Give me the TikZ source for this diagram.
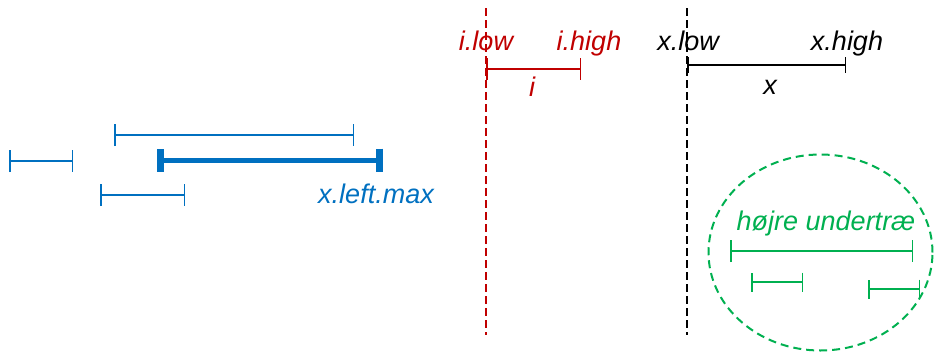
\documentclass[tikz,border=0pt]{standalone}
\usepackage{fontspec}
\setmainfont{Liberation Sans}
\usetikzlibrary{arrows.meta,shapes.geometric}
\definecolor{myblue}{HTML}{0070C0}
\definecolor{myred}{HTML}{C00000}
\definecolor{mygreen}{HTML}{00B050}
\begin{document}
\begin{tikzpicture}[x=1pt,y=-1pt,
  lbl/.style={inner sep=0pt,anchor=base,font=\fontsize{27}{32}\selectfont\itshape},
  ival/.style={line width=1.5pt,{Bar[width=22pt]}-{Bar[width=22pt]}},
  thickival/.style={line width=5pt,{Bar[width=23pt,line width=7pt]}-{Bar[width=23pt,line width=7pt]}},
  vline/.style={line width=1.5pt,dash pattern=on 8pt off 4pt}]
\useasboundingbox (0,0) rectangle (934,351);
% vertical dashed lines
\coordinate (rt) at (486,8); \coordinate (rb) at (486,335);
\coordinate (kt) at (687,8); \coordinate (kb) at (687,335);
\draw[vline,myred] (rt) -- (rb);
\draw[vline,black] (kt) -- (kb);
% i interval
\coordinate (ia) at (486,69); \coordinate (ib) at (581,69);
\draw[ival,myred] (ia) -- (ib);
\node[lbl,text=myred] (ilow) at (486,50) {i.low};
\node[lbl,text=myred] (ihigh) at (589,50) {i.high};
\node[lbl,text=myred] (ilab) at (532,96) {i};
% x interval
\coordinate (xa) at (687,65); \coordinate (xb) at (846,65);
\draw[line width=1.5pt,{Bar[width=16pt]}-{Bar[width=16pt]}] (xa) -- (xb);
\node[lbl] (xlow) at (688,50) {x.low};
\node[lbl] (xhigh) at (847,50) {x.high};
\node[lbl] (xlab) at (770,94) {x};
% blue intervals
\coordinate (b1a) at (114,135); \coordinate (b1b) at (354,135);
\draw[ival,myblue] (b1a) -- (b1b);
\coordinate (b2a) at (9,161); \coordinate (b2b) at (73,161);
\draw[ival,myblue] (b2a) -- (b2b);
\coordinate (b3a) at (157,160); \coordinate (b3b) at (383,160);
\draw[thickival,myblue] (b3a) -- (b3b);
\coordinate (b4a) at (100,195); \coordinate (b4b) at (185,195);
\draw[ival,myblue] (b4a) -- (b4b);
\node[lbl,text=myblue] (xlm) at (376,203) {x.left.max};
% green subtree
\node[draw=mygreen,line width=2pt,dash pattern=on 8pt off 5pt,ellipse,minimum width=224pt,minimum height=196pt,inner sep=0pt] (ell) at (820.5,252.5) {};
\node[lbl,text=mygreen] (hu) at (826,230) {højre undertræ};
\coordinate (g1a) at (730,251); \coordinate (g1b) at (913,251);
\draw[ival,mygreen] (g1a) -- (g1b);
\coordinate (g2a) at (751,282); \coordinate (g2b) at (803,282);
\draw[ival,mygreen,{Bar[width=19pt]}-{Bar[width=19pt]}] (g2a) -- (g2b);
\coordinate (g3a) at (868,289); \coordinate (g3b) at (920,289);
\draw[ival,mygreen,{Bar[width=19pt]}-{Bar[width=19pt]}] (g3a) -- (g3b);
\end{tikzpicture}
\end{document}
